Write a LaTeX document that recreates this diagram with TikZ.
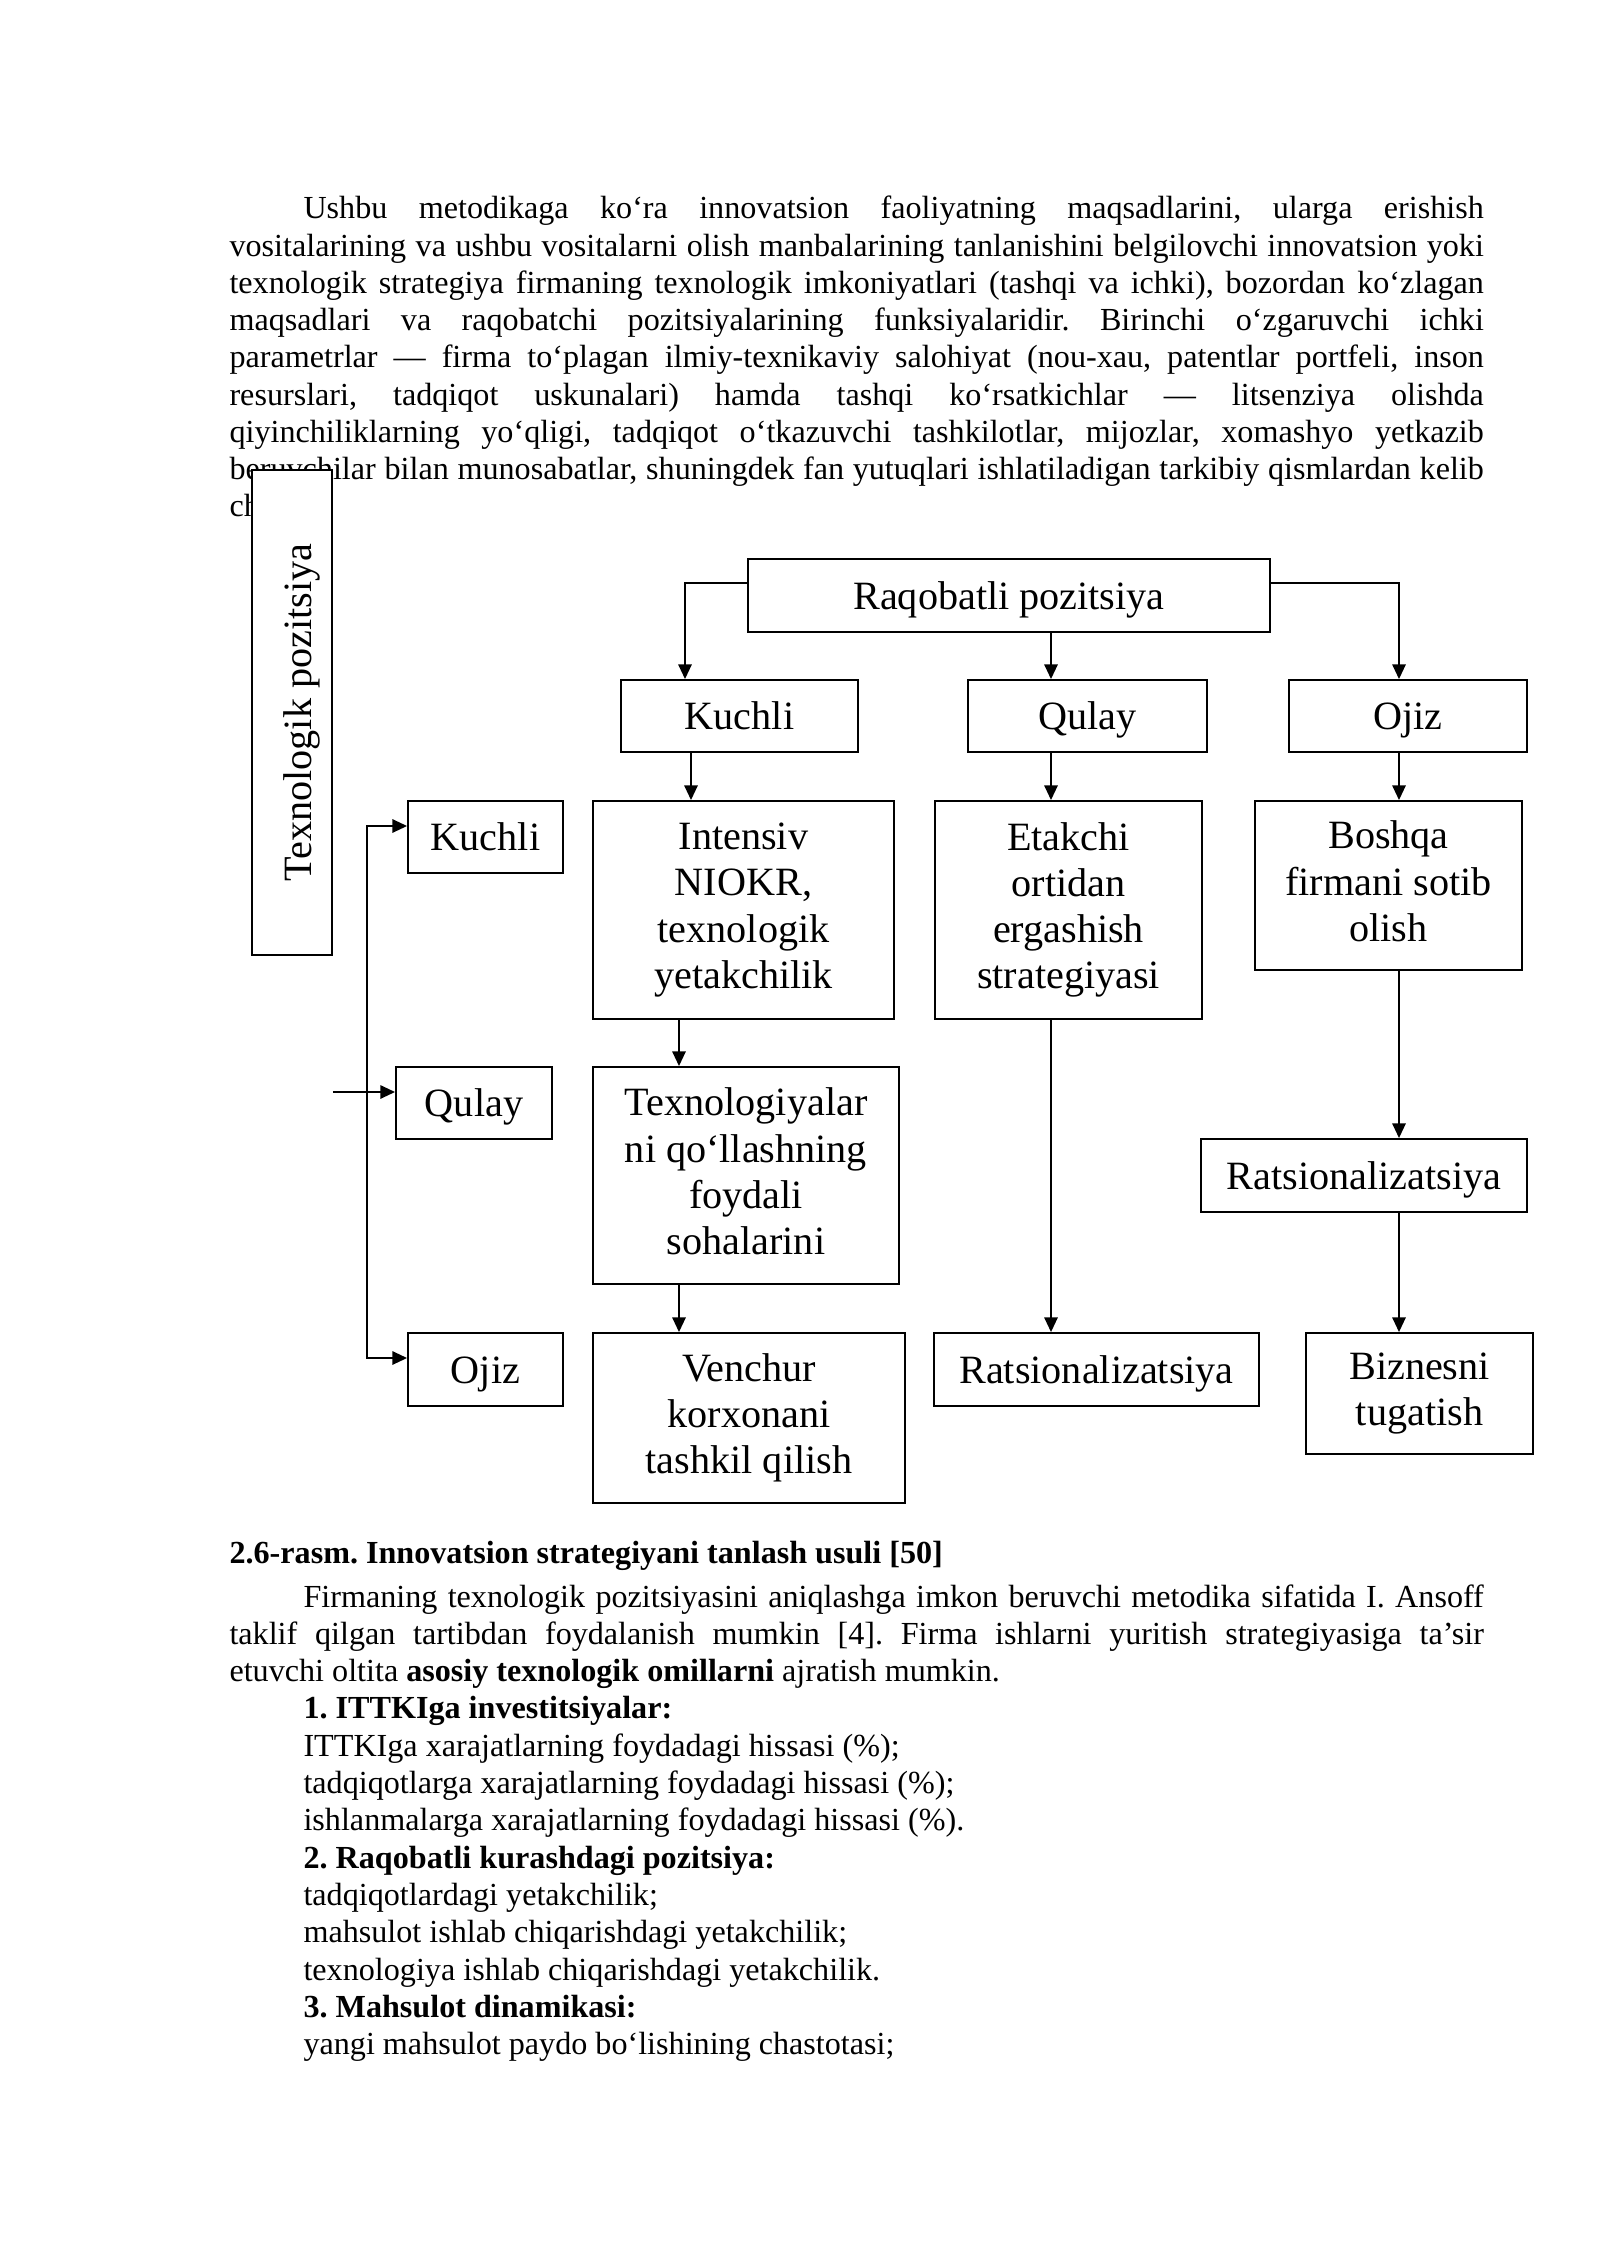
\documentclass[tikz,border=0pt]{standalone}
\usepackage{fontspec}
\setmainfont{Liberation Serif}
\usetikzlibrary{arrows.meta}
\frenchspacing
\newcommand{\jline}[2]{\makebox[#1][s]{#2}}

\begin{document}
\begin{tikzpicture}[x=0.013125cm,y=-0.013125cm,>={Triangle[length=5.5pt,width=5pt]}]
    \tikzstyle{txt}=[inner sep=0pt,anchor=base west,font=\fontsize{12}{14}\selectfont]
    \tikzstyle{box}=[draw=black,fill=white,line width=0.7pt,inner sep=0pt,align=center,text depth=3.2pt,font=\fontsize{15}{17.25}\selectfont]
    \tikzstyle{box1}=[box,text height=12.5pt,text depth=2.3pt]
    \tikzstyle{arr}=[->,line width=0.7pt]
    \useasboundingbox (0,0) rectangle (1600,2262);

    % birinchi abzats
    \node[txt] (p-1) at (303,219) {\jline{15.4875cm}{Ushbu metodikaga ko‘ra innovatsion faoliyatning maqsadlarini, ularga erishish}};
    \foreach \n/\y/\t in {2/256.2/{vositalarining va ushbu vositalarni olish manbalarining tanlanishini belgilovchi innovatsion yoki},
                          3/293.4/{texnologik strategiya firmaning texnologik imkoniyatlari (tashqi va ichki), bozordan ko‘zlagan},
                          4/330.6/{maqsadlari va raqobatchi pozitsiyalarining funksiyalaridir. Birinchi o‘zgaruvchi ichki},
                          5/367.8/{parametrlar — firma to‘plagan ilmiy-texnikaviy salohiyat (nou-xau, patentlar portfeli, inson},
                          6/405/{resurslari, tadqiqot uskunalari) hamda tashqi ko‘rsatkichlar — litsenziya olishda},
                          7/442.2/{qiyinchiliklarning yo‘qligi, tadqiqot o‘tkazuvchi tashkilotlar, mijozlar, xomashyo yetkazib},
                          8/479.4/{beruvchilar bilan munosabatlar, shuningdek fan yutuqlari ishlatiladigan tarkibiy qismlardan kelib}}
        \node[txt] (p-\n) at (229,\y) {\jline{16.459cm}{\t}};
    \node[txt] (p-9) at (229,516.6) {ch};

    % sxema
    \node[box,rotate=90,minimum width=6.366cm,minimum height=1.05cm] (tpoz) at (292,712.5) {};
    \node[rotate=90,anchor=base,inner sep=0pt,font=\fontsize{15}{17.25}\selectfont] (tpoz-t) at (311,712.5) {Texnologik pozitsiya};

    \node[box1,minimum width=6.851cm,minimum height=0.958cm] (raq) at (1009,595.5) {Raqobatli pozitsiya};

    \node[box1,minimum width=3.111cm,minimum height=0.945cm] (ku1) at (739.5,716) {Kuchli};
    \node[box1,minimum width=3.137cm,minimum height=0.945cm] (qu1) at (1087.5,716) {Qulay};
    \node[box1,minimum width=3.124cm,minimum height=0.945cm] (oj1) at (1408,716) {Ojiz};

    \node[box1,minimum width=2.034cm,minimum height=0.945cm] (ku2) at (485.5,837) {Kuchli};
    \node[box1,minimum width=2.048cm,minimum height=0.945cm] (qu2) at (474,1103) {Qulay};
    \node[box1,minimum width=2.034cm,minimum height=0.958cm] (oj2) at (485.5,1369.5) {Ojiz};

    \node[box,minimum width=3.951cm,minimum height=2.861cm] (intens) at (743.5,910) {Intensiv\\NIOKR,\\texnologik\\yetakchilik};
    \node[box,minimum width=3.504cm,minimum height=2.861cm] (etak) at (1068.5,910) {Etakchi\\ortidan\\ergashish\\strategiyasi};
    \node[box,minimum width=3.504cm,minimum height=2.218cm] (boshqa) at (1388.5,885.5) {Boshqa\\firmani sotib\\olish};

    \node[box,minimum width=4.016cm,minimum height=2.848cm] (texno) at (746,1175.5) {Texnologiyalar\\ni qo‘llashning\\foydali\\sohalarini};
    \node[box1,minimum width=4.279cm,minimum height=0.958cm] (rats1) at (1364,1175.5) {Ratsionalizatsiya};

    \node[box,minimum width=4.095cm,minimum height=2.231cm] (venchur) at (749,1418) {Venchur\\korxonani\\tashkil qilish};
    \node[box1,minimum width=4.266cm,minimum height=0.958cm] (rats2) at (1096.5,1369.5) {Ratsionalizatsiya};
    \node[box,minimum width=2.979cm,minimum height=1.588cm] (biznes) at (1419.5,1393.5) {Biznesni\\tugatish};

    \coordinate (jL) at (685,583);
    \coordinate (jR) at (1399,583);
    \coordinate (jM) at (1051,0);
    \coordinate (jK) at (691,0);
    \coordinate (jI) at (679,0);
    \coordinate (jT) at (367,826);
    \coordinate (jB) at (367,1358);
    \coordinate (jQ) at (0,1092);

    \draw[arr] (raq.west |- jL) -| (ku1.north -| jL);
    \draw[arr] (raq.south -| jM) -- (qu1.north -| jM);
    \draw[arr] (raq.east |- jR) -| (oj1.north -| jR);
    \draw[arr] (ku1.south -| jK) -- (intens.north -| jK);
    \draw[arr] (qu1.south -| jM) -- (etak.north -| jM);
    \draw[arr] (oj1.south -| jR) -- (boshqa.north -| jR);
    \draw[arr] (intens.south -| jI) -- (texno.north -| jI);
    \draw[arr] (texno.south -| jI) -- (venchur.north -| jI);
    \draw[arr] (etak.south -| jM) -- (rats2.north -| jM);
    \draw[arr] (boshqa.south -| jR) -- (rats1.north -| jR);
    \draw[arr] (rats1.south -| jR) -- (biznes.north -| jR);
    \draw[<->,line width=0.7pt] (ku2.west |- jT) -| (jB) -- (oj2.west |- jB);
    \draw[arr] (tpoz.south |- jQ) -- (qu2.west |- jQ);

    % rasm nomi va ikkinchi abzats
    \node[txt] (cap) at (229,1563) {\textbf{2.6-rasm. Innovatsion strategiyani tanlash usuli [50]}};
    \node[txt] (q-1) at (303,1607) {\jline{15.4875cm}{Firmaning texnologik pozitsiyasini aniqlashga imkon beruvchi metodika sifatida I. Ansoff}};
    \node[txt] (q-2) at (229,1644.3) {\jline{16.459cm}{taklif qilgan tartibdan foydalanish mumkin [4]. Firma ishlarni yuritish strategiyasiga ta’sir}};
    \node[txt] (q-3) at (229,1681.6) {etuvchi oltita \textbf{asosiy texnologik omillarni} ajratish mumkin.};
    \foreach \n/\y/\t in {1/1718.9/{\textbf{1. ITTKIga investitsiyalar:}},
                          2/1756.2/{ITTKIga xarajatlarning foydadagi hissasi (\%);},
                          3/1793.5/{tadqiqotlarga xarajatlarning foydadagi hissasi (\%);},
                          4/1830.8/{ishlanmalarga xarajatlarning foydadagi hissasi (\%).},
                          5/1868.1/{\textbf{2. Raqobatli kurashdagi pozitsiya:}},
                          6/1905.4/{tadqiqotlardagi yetakchilik;},
                          7/1942.7/{mahsulot ishlab chiqarishdagi yetakchilik;},
                          8/1980/{texnologiya ishlab chiqarishdagi yetakchilik.},
                          9/2017.3/{\textbf{3. Mahsulot dinamikasi:}},
                          10/2054.6/{yangi mahsulot paydo bo‘lishining chastotasi;}}
        \node[txt] (m-\n) at (303,\y) {\t};
\end{tikzpicture}
\end{document}
